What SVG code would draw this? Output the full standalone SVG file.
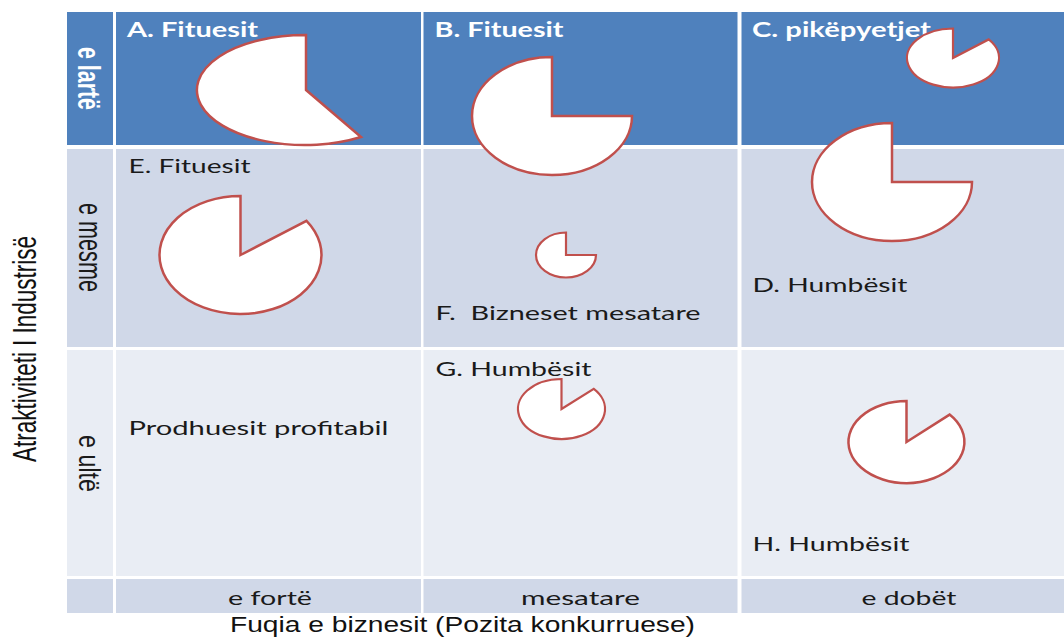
<svg xmlns="http://www.w3.org/2000/svg" width="1064" height="637" viewBox="0 0 1064 637">
  <style>
    .hdr { fill: #4F81BD; }
    .mid { fill: #D0D8E8; }
    .low { fill: #E9EDF4; }
    .pie { fill: #FFFFFF; stroke: #C0504D; stroke-width: 2.5; stroke-linejoin: miter; }
    .pie-s { stroke-width: 2.2; }
    .lbl { font-family: Lato, "Open Sans", "Liberation Sans", sans-serif; font-size: 20px; fill: #1A1A1A; }
    .lbl-b { font-family: Lato, "Open Sans", "Liberation Sans", sans-serif; font-size: 20px; font-weight: bold; fill: #FFFFFF; }
    .side { font-family: "Liberation Sans", Arial, sans-serif; font-size: 21px; fill: #1A1A1A; }
    .side-b { font-weight: bold; fill: #FFFFFF; }
    .axis { font-family: "Liberation Sans", Arial, sans-serif; font-size: 22px; fill: #111111; }
  </style>

  <rect x="0" y="0" width="1064" height="637" fill="#FFFFFF"/>

  <!-- matrix cells -->
  <g id="grid">
    <g id="row-high">
      <rect class="hdr" x="67" y="12" width="46" height="133"/>
      <rect class="hdr" x="116" y="12" width="305" height="133"/>
      <rect class="hdr" x="423.5" y="12" width="314" height="133"/>
      <rect class="hdr" x="741.5" y="12" width="322.5" height="133"/>
    </g>
    <g id="row-medium">
      <rect class="mid" x="67" y="149" width="46" height="198"/>
      <rect class="mid" x="116" y="149" width="305" height="198"/>
      <rect class="mid" x="423.5" y="149" width="314" height="198"/>
      <rect class="mid" x="741.5" y="149" width="322.5" height="198"/>
    </g>
    <g id="row-low">
      <rect class="low" x="67" y="350" width="46" height="226"/>
      <rect class="low" x="116" y="350" width="305" height="226"/>
      <rect class="low" x="423.5" y="350" width="314" height="226"/>
      <rect class="low" x="741.5" y="350" width="322.5" height="226"/>
    </g>
    <g id="row-axis">
      <rect class="mid" x="67" y="579" width="46" height="34"/>
      <rect class="mid" x="116" y="579" width="305" height="34"/>
      <rect class="mid" x="423.5" y="579" width="314" height="34"/>
      <rect class="mid" x="741.5" y="579" width="322.5" height="34"/>
    </g>
  </g>

  <!-- row headings (vertical) -->
  <g id="row-labels">
    <text class="side side-b" text-anchor="middle" transform="translate(78,78.5) rotate(90) scale(1,1.45)" textLength="63" lengthAdjust="spacingAndGlyphs">e lartë</text>
    <text class="side" text-anchor="middle" transform="translate(79,247.5) rotate(90) scale(1,1.6)" textLength="89" lengthAdjust="spacingAndGlyphs">e mesme</text>
    <text class="side" text-anchor="middle" transform="translate(79,463.5) rotate(90) scale(1,1.4)" textLength="57" lengthAdjust="spacingAndGlyphs">e ultë</text>
  </g>

  <!-- cell captions -->
  <g id="cell-A"><text class="lbl-b" x="127" y="37" textLength="131" lengthAdjust="spacingAndGlyphs">A. Fituesit</text></g>
  <g id="cell-B"><text class="lbl-b" x="434.5" y="36.5" textLength="129" lengthAdjust="spacingAndGlyphs">B. Fituesit</text></g>
  <g id="cell-C"><text class="lbl-b" x="752" y="36.5" textLength="179" lengthAdjust="spacingAndGlyphs">C. pikëpyetjet</text></g>
  <g id="cell-E"><text class="lbl" x="128.5" y="173" textLength="122" lengthAdjust="spacingAndGlyphs">E. Fituesit</text></g>
  <g id="cell-F"><text class="lbl" x="435.5" y="320" textLength="265" lengthAdjust="spacingAndGlyphs" style="white-space:pre">F.  Bizneset mesatare</text></g>
  <g id="cell-D"><text class="lbl" x="752.5" y="291.5" textLength="155" lengthAdjust="spacingAndGlyphs">D. Humbësit</text></g>
  <g id="cell-P"><text class="lbl" x="128.5" y="435" textLength="260" lengthAdjust="spacingAndGlyphs">Prodhuesit profitabil</text></g>
  <g id="cell-G"><text class="lbl" x="435.5" y="376" textLength="156" lengthAdjust="spacingAndGlyphs">G. Humbësit</text></g>
  <g id="cell-H"><text class="lbl" x="752.5" y="551" textLength="157" lengthAdjust="spacingAndGlyphs">H. Humbësit</text></g>

  <!-- market-share pies -->
  <g id="pie-A"><path class="pie" d="M306,90 L361,137 A108 55 0 1 1 306,35 Z"/></g>
  <g id="pie-B"><path class="pie" d="M552,116 L632,116 A80 59 0 1 1 552,57 Z"/></g>
  <g id="pie-C"><path class="pie pie-s" d="M953,58 L988.7,39.4 A46 29.5 0 1 1 953,28.5 Z"/></g>
  <g id="pie-D"><path class="pie" d="M892,182 L972,182 A80 59 0 1 1 892,123 Z"/></g>
  <g id="pie-E"><path class="pie" d="M240.5,255 L306.5,220.8 A81 59 0 1 1 240.5,196 Z"/></g>
  <g id="pie-F"><path class="pie pie-s" d="M566,255 L596,255 A30 22.5 0 1 1 566,232.5 Z"/></g>
  <g id="pie-G"><path class="pie pie-s" d="M561.5,409 L593.8,388.9 A43.5 30 0 1 1 561.5,379 Z"/></g>
  <g id="pie-H"><path class="pie" d="M906.5,442 L949.6,414.6 A58 41 0 1 1 906.5,401 Z"/></g>

  <!-- column headings -->
  <g id="col-labels">
    <text class="lbl" x="270" y="605" text-anchor="middle" textLength="84" lengthAdjust="spacingAndGlyphs">e fortë</text>
    <text class="lbl" x="580.5" y="605" text-anchor="middle" textLength="119" lengthAdjust="spacingAndGlyphs">mesatare</text>
    <text class="lbl" x="909" y="605" text-anchor="middle" textLength="95" lengthAdjust="spacingAndGlyphs">e dobët</text>
  </g>

  <!-- axis titles -->
  <g id="axes">
    <text class="axis" text-anchor="middle" transform="translate(36,349) rotate(-90) scale(1,1.5)" textLength="226" lengthAdjust="spacingAndGlyphs">Atraktiviteti I Industrisë</text>
    <text class="axis" x="230" y="632" textLength="465" lengthAdjust="spacingAndGlyphs">Fuqia e biznesit (Pozita konkurruese)</text>
  </g>

  <!-- connectors: none in this matrix -->
  <g id="connectors"/>
</svg>
